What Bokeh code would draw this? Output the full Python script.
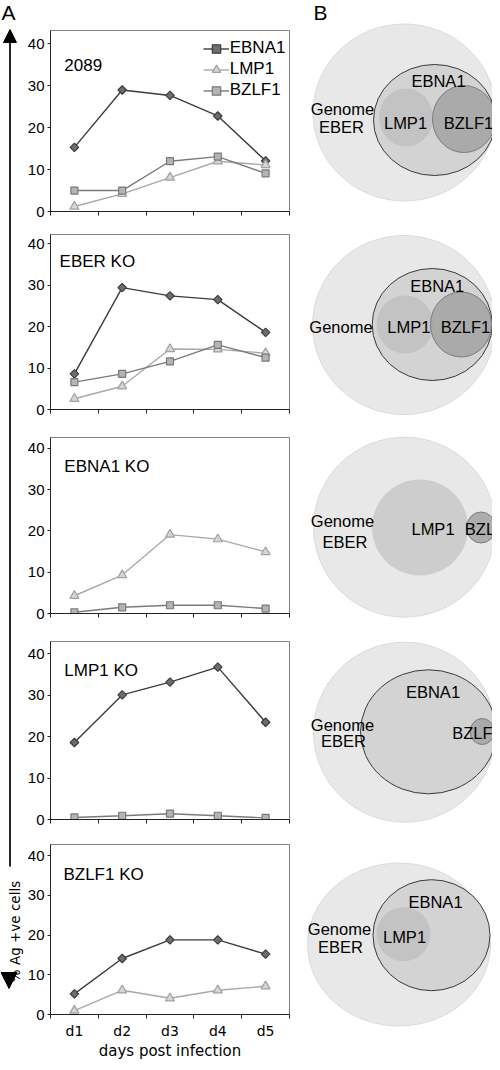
import math
from bokeh.plotting import figure
from bokeh.layouts import row, column
from bokeh.models import Range1d, FixedTicker, Label, Arrow, NormalHead
from bokeh.embed import file_html
from bokeh.resources import INLINE
from bokeh.core.properties import value

# ---------------- data ----------------
days = ["d1", "d2", "d3", "d4", "d5"]
panel_names = ["2089", "EBER KO", "EBNA1 KO", "LMP1 KO", "BZLF1 KO"]
series_names = ["EBNA1", "LMP1", "BZLF1"]

ebna1_2089 = [15.3, 29.0, 27.7, 22.8, 12.1]
lmp1_2089 = [1.2, 4.2, 8.1, 12.0, 11.1]
bzlf1_2089 = [5.0, 5.0, 12.0, 13.1, 9.1]

ebna1_eber_ko = [8.6, 29.4, 27.4, 26.5, 18.6]
lmp1_eber_ko = [2.6, 5.6, 14.6, 14.5, 13.6]
bzlf1_eber_ko = [6.6, 8.6, 11.6, 15.6, 12.5]

lmp1_ebna1_ko = [4.3, 9.3, 19.1, 18.0, 14.9]
bzlf1_ebna1_ko = [0.3, 1.5, 2.0, 2.0, 1.2]

ebna1_lmp1_ko = [18.6, 30.1, 33.2, 36.8, 23.5]
bzlf1_lmp1_ko = [0.5, 0.9, 1.4, 0.9, 0.4]

ebna1_bzlf1_ko = [5.2, 14.1, 18.8, 18.8, 15.2]
lmp1_bzlf1_ko = [1.0, 6.1, 4.1, 6.1, 7.1]

panel_series = [
    {"EBNA1": ebna1_2089, "LMP1": lmp1_2089, "BZLF1": bzlf1_2089},
    {"EBNA1": ebna1_eber_ko, "LMP1": lmp1_eber_ko, "BZLF1": bzlf1_eber_ko},
    {"LMP1": lmp1_ebna1_ko, "BZLF1": bzlf1_ebna1_ko},
    {"EBNA1": ebna1_lmp1_ko, "BZLF1": bzlf1_lmp1_ko},
    {"EBNA1": ebna1_bzlf1_ko, "LMP1": lmp1_bzlf1_ko},
]

y_ticks = [0, 10, 20, 30, 40]

# ---------------- styling / layout ----------------
ARIAL = "Liberation Sans"
VERD = "DejaVu Sans"

style = {
    "EBNA1": dict(line="#3c3c3c", fill="#6e6e6e", edge="#3c3c3c", marker="square", angle=math.pi / 4, size=6),
    "LMP1": dict(line="#a8a8a8", fill="#d6d6d6", edge="#a0a0a0", marker="triangle", angle=0.0, size=9),
    "BZLF1": dict(line="#7a7a7a", fill="#b4b4b4", edge="#787878", marker="square", angle=0.0, size=7),
}

splits = [0, 222, 423, 627, 831, 1062]          # figure row boundaries (px)
frame_tops = [30, 234, 437, 641, 844]
axis_ys = [211, 409, 613, 819, 1023]
y_max = [43.2, 42.2, 42.6, 43.0, 42.8]
label_x = [0.79, 0.69, 0.79, 0.79, 0.77]
label_y = [34.9, 35.6, 35.6, 36.1, 35.3]
heights = [splits[i + 1] - splits[i] for i in range(5)]
TOTAL_H = splits[-1]

xs = [i + 1 for i in range(len(days))]


def no_align(p):
    try:
        p.frame_align = False
    except Exception:
        pass


def make_chart(i):
    top_b = frame_tops[i] - splits[i]
    bot_b = splits[i + 1] - axis_ys[i]
    p = figure(width=276, height=heights[i], x_range=Range1d(0.5, 5.5), y_range=Range1d(0, y_max[i]),
               output_backend="svg", toolbar_location=None, title=None,
               min_border_left=25, min_border_right=11,
               min_border_top=top_b, min_border_bottom=bot_b)
    no_align(p)
    p.xgrid.visible = False
    p.ygrid.visible = False
    p.outline_line_color = "#808080"
    p.outline_line_width = 1

    ya = p.yaxis[0]
    ya.ticker = FixedTicker(ticks=y_ticks, minor_ticks=[])
    ya.major_tick_in = 0
    ya.major_tick_out = 3
    ya.minor_tick_in = 0
    ya.minor_tick_out = 0
    ya.axis_line_color = "#222222"
    ya.major_tick_line_color = "#222222"
    ya.major_label_text_font = ARIAL
    ya.major_label_text_font_size = "15px"
    ya.major_label_text_color = "black"
    ya.major_label_standoff = 3

    xa = p.xaxis[0]
    bounds = [x - 0.5 for x in xs] + [xs[-1] + 0.5]
    xa.major_tick_in = 0
    xa.major_tick_out = 0
    xa.minor_tick_in = 0
    xa.minor_tick_out = 4
    xa.axis_line_color = "#222222"
    xa.minor_tick_line_color = "#222222"
    if i < 4:
        xa.ticker = FixedTicker(ticks=[], minor_ticks=bounds)
    else:
        xa.ticker = FixedTicker(ticks=xs, minor_ticks=bounds)
        xa.major_label_overrides = {x: d for x, d in zip(xs, days)}
        xa.major_label_text_font = VERD
        xa.major_label_text_color = "black"
        xa.major_label_text_font_size = "14px"
        xa.major_label_standoff = 4
        xa.axis_label = "days post infection"
        xa.axis_label_text_font = VERD
        xa.axis_label_text_font_size = "15px"
        xa.axis_label_text_font_style = "normal"
        xa.axis_label_text_color = "black"
        xa.axis_label_standoff = 0

    for name in series_names:
        vals = panel_series[i].get(name)
        if vals is None:
            continue
        s = style[name]
        kw = {"legend_label": name} if i == 0 else {}
        p.line(xs, vals, line_color=s["line"], line_width=1.4, **kw)
        p.scatter(xs, vals, marker=s["marker"], angle=s["angle"], size=s["size"],
                  fill_color=s["fill"], line_color=s["edge"], line_width=1.2, **kw)

    p.add_layout(Label(x=label_x[i], y=label_y[i], text=panel_names[i], text_font=ARIAL,
                       text_font_size="17px", text_baseline="alphabetic", text_align="left",
                       text_color="black"))

    if i == 0:
        lg = p.legend[0]
        frame_h = axis_ys[0] - frame_tops[0]
        lg.location = (152.7, frame_h - 7.5 - 63)
        lg.border_line_alpha = 0
        lg.background_fill_alpha = 0
        lg.label_text_font = ARIAL
        lg.label_text_font_size = "17px"
        lg.label_text_color = "black"
        lg.glyph_width = 26
        lg.glyph_height = 21
        lg.label_height = 21
        lg.spacing = 0
        lg.padding = 0
        lg.margin = 0
        lg.label_standoff = 1
    return p


# ---------------- Venn schematics (page pixel frame) ----------------
venn_shapes = [
    [("genome", 404, 112, 183, 177), ("ebna1", 434, 119.5, 122, 111),
     ("lmp1", 405.5, 117, 54, 58), ("bzlf1", 463.5, 118.5, 63, 67)],
    [("genome", 403.5, 324.5, 183, 179), ("ebna1", 431.7, 324, 120, 112),
     ("lmp1", 404.5, 324, 57, 58), ("bzlf1", 460.5, 324, 61, 65)],
    [("genome", 404, 526.7, 182, 180), ("lmp1big", 419.5, 527, 96, 96),
     ("bzlf1", 480.5, 527, 29, 31)],
    [("genome", 404, 731.7, 182, 180), ("ebna1", 428, 731.3, 136, 124),
     ("bzlf1", 481.7, 731, 24, 26)],
    [("genome", 398.5, 944, 183, 163), ("ebna1", 431, 934.7, 117, 111),
     ("lmp1", 403, 933.7, 54, 54)],
]

venn_texts = [
    [("EBNA1", 438, 80, "center"), ("Genome", 342, 108.3, "center"), ("EBER", 341, 126.7, "center"),
     ("LMP1", 405, 122.7, "center"), ("BZLF1", 468, 122.7, "center")],
    [("EBNA1", 436.7, 285, "center"), ("Genome", 340.5, 326.7, "center"),
     ("LMP1", 408.3, 326.7, "center"), ("BZLF1", 465, 326.7, "center")],
    [("Genome", 342, 520, "center"), ("EBER", 344.5, 541.7, "center"),
     ("LMP1", 432.5, 528.3, "center"), ("BZLF1", 464.3, 528.3, "left")],
    [("EBNA1", 432.5, 691, "center"), ("Genome", 342, 724, "center"), ("EBER", 343, 740, "center"),
     ("BZLF1", 451.7, 732.7, "left")],
    [("EBNA1", 435, 901.7, "center"), ("Genome", 339, 928.3, "center"), ("EBER", 340, 946.7, "center"),
     ("LMP1", 404, 936.7, "center")],
]

venn_style = {
    "genome": dict(fill_color="#e8e8e8", line_color="#dadada", line_width=1, fill_alpha=1),
    "ebna1": dict(fill_color="#d3d3d3", line_color="#3a3a3a", line_width=1, fill_alpha=1),
    "lmp1": dict(fill_color="#c3c3c3", line_color=None, line_width=0, fill_alpha=1),
    "lmp1big": dict(fill_color="#cdcdcd", line_color=None, line_width=0, fill_alpha=1),
    "bzlf1": dict(fill_color="#a2a2a2", line_color="#7c7c7c", line_width=1, fill_alpha=0.85),
}


def bare_figure(w, h, xr, yr):
    p = figure(width=w, height=h, x_range=xr, y_range=yr, output_backend="svg",
               toolbar_location=None, title=None, x_axis_location=None, y_axis_location=None,
               min_border_left=0, min_border_right=0, min_border_top=0, min_border_bottom=0)
    no_align(p)
    p.grid.visible = False
    p.outline_line_color = None
    return p


def make_venn(i):
    p = bare_figure(192, heights[i], Range1d(300, 492), Range1d(splits[i + 1], splits[i]))
    for kind, cx, cy, w, hh in venn_shapes[i]:
        p.ellipse(x=[cx], y=[cy], width=[w], height=[hh], **venn_style[kind])
    for txt, tx, ty, al in venn_texts[i]:
        p.text(x=[tx], y=[ty], text=[txt], text_font=value(ARIAL), text_font_size="16.5px",
               text_align=al, text_baseline="middle", text_color="black")
    if i == 0:
        p.add_layout(Label(x=313, y=0, text="B", text_font=ARIAL, text_font_size="21px",
                           text_baseline="top", text_align="left", text_color="black"))
    return p


# ---------------- left strip with arrow ----------------
strip = bare_figure(24, TOTAL_H, Range1d(0, 24), Range1d(TOTAL_H, 0))
strip.add_layout(Label(x=1, y=0, text="A", text_font=ARIAL, text_font_size="21px",
                       text_baseline="top", text_align="left", text_color="black"))
strip.add_layout(Arrow(end=NormalHead(size=13, fill_color="black", line_color="black", line_width=1),
                       x_start=9.5, y_start=866, x_end=9.5, y_end=29,
                       line_color="black", line_width=1.7))
strip.text(x=[14.5], y=[931], text=["% Ag +ve cells"], angle=math.pi / 2,
           text_font=value(VERD), text_font_size="13.5px", text_align="center",
           text_baseline="middle", text_color="black")
strip.patch([0.5, 16.5, 8.5], [972, 972, 988], fill_color="black", line_color="black")

charts = [make_chart(i) for i in range(5)]
venns = [make_venn(i) for i in range(5)]

layout = row(strip, column(*charts), column(*venns))

open("out.html", "w").write(file_html(layout, INLINE))
